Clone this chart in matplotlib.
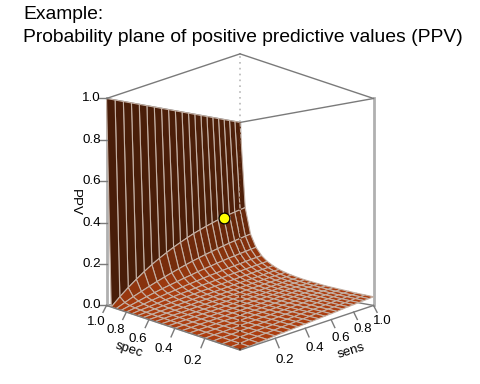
import numpy as np
import matplotlib
matplotlib.use('Agg')
import matplotlib.pyplot as plt
from mpl_toolkits.mplot3d import proj3d

plt.rcParams['font.family'] = ['Liberation Sans', 'DejaVu Sans']

title = 'Example:\nProbability plane of positive predictive values (PPV)'

sens = [0.00, 0.05, 0.10, 0.15, 0.20, 0.25, 0.30, 0.35, 0.40, 0.45, 0.50,
        0.55, 0.60, 0.65, 0.70, 0.75, 0.80, 0.85, 0.90, 0.95, 1.00]
spec = [1.00, 0.95, 0.90, 0.85, 0.80, 0.75, 0.70, 0.65, 0.60, 0.55, 0.50,
        0.45, 0.40, 0.35, 0.30, 0.25, 0.20, 0.15, 0.10, 0.05, 0.00]

# one row per spec value, one column per sens value
ppv = [
    [1, 1, 1, 1, 1, 1, 1, 1, 1, 1, 1, 1, 1, 1, 1, 1, 1, 1, 1, 1, 1],
    [0, .042, .080, .115, .148, .179, .207, .233, .258, .281, .303, .324, .343, .361, .378, .395, .410, .425, .439, .452, .465],
    [0, .021, .042, .061, .080, .098, .115, .132, .148, .164, .179, .193, .207, .220, .233, .246, .258, .270, .281, .292, .303],
    [0, .014, .028, .042, .055, .068, .080, .092, .104, .115, .127, .138, .148, .159, .169, .179, .188, .198, .207, .216, .225],
    [0, .011, .021, .032, .042, .052, .061, .071, .080, .089, .098, .107, .115, .124, .132, .140, .148, .156, .164, .171, .179],
    [0, .009, .017, .025, .034, .042, .050, .057, .065, .073, .080, .087, .095, .102, .109, .115, .122, .129, .135, .142, .148],
    [0, .007, .014, .021, .028, .035, .042, .048, .055, .061, .068, .074, .080, .086, .092, .098, .104, .110, .115, .121, .127],
    [0, .006, .012, .018, .024, .030, .036, .042, .047, .053, .058, .064, .069, .075, .080, .085, .090, .095, .101, .106, .110],
    [0, .005, .011, .016, .021, .026, .032, .037, .042, .047, .052, .056, .061, .066, .071, .075, .080, .085, .089, .094, .098],
    [0, .005, .010, .014, .019, .024, .028, .033, .037, .042, .046, .050, .055, .059, .063, .068, .072, .076, .080, .084, .088],
    [0, .004, .009, .013, .017, .021, .025, .030, .034, .038, .042, .046, .050, .053, .057, .061, .065, .069, .073, .076, .080],
    [0, .004, .008, .012, .016, .019, .023, .027, .031, .034, .038, .042, .045, .049, .052, .056, .059, .063, .066, .070, .073],
    [0, .004, .007, .011, .014, .018, .021, .025, .028, .032, .035, .038, .042, .045, .048, .052, .055, .058, .061, .064, .068],
    [0, .003, .007, .010, .013, .016, .020, .023, .026, .029, .032, .035, .039, .042, .045, .048, .051, .054, .057, .060, .063],
    [0, .003, .006, .009, .012, .015, .018, .021, .024, .027, .030, .033, .036, .039, .042, .045, .047, .050, .053, .056, .058],
    [0, .003, .006, .009, .011, .014, .017, .020, .023, .025, .028, .031, .034, .036, .039, .042, .044, .047, .050, .052, .055],
    [0, .003, .005, .008, .011, .013, .016, .019, .021, .024, .026, .029, .032, .034, .037, .039, .042, .044, .047, .049, .052],
    [0, .003, .005, .008, .010, .013, .015, .018, .020, .023, .025, .027, .030, .032, .035, .037, .039, .042, .044, .046, .049],
    [0, .002, .005, .007, .010, .012, .014, .017, .019, .021, .024, .026, .028, .030, .033, .035, .037, .039, .042, .044, .046],
    [0, .002, .005, .007, .009, .011, .014, .016, .018, .020, .022, .025, .027, .029, .031, .033, .035, .037, .040, .042, .044],
    [0, .002, .004, .006, .009, .011, .013, .015, .017, .019, .021, .023, .025, .027, .030, .032, .034, .036, .038, .040, .042],
]

point_sens = [0.80]
point_spec = [0.95]
point_ppv = [0.405]

z_ticks = [0.0, 0.2, 0.4, 0.6, 0.8, 1.0]
spec_ticks = [0.2, 0.4, 0.6, 0.8, 1.0]
sens_ticks = [0.2, 0.4, 0.6, 0.8, 1.0]

fig = plt.figure(figsize=(4.8, 3.84), dpi=100)
ax = fig.add_axes([71.6 / 480, 13.6 / 384, 328 / 480, 328 / 384], projection='3d')
ax.set_box_aspect((1, 1, 1.096))
ax.set_proj_type('persp', focal_length=0.25)
ax.view_init(elev=0, azim=225)
ax.set_xlim(0, 1, view_margin=0)
ax.set_ylim(0, 1, view_margin=0)
ax.set_zlim(0, 1, view_margin=0)
ax.set_axis_off()
ax.computed_zorder = False


# text placed at a 3d position but kept as plain 2d text, so rotation holds
def label_3d(x, y, z, s, rotation=0):
    px, py, _ = proj3d.proj_transform(x, y, z, ax.get_proj())
    ax.text2D(px, py, s, transform=ax.transData, fontsize=9.6, rotation=rotation,
              ha='center', va='center')


X, Y = np.meshgrid(sens, spec)
Z = np.array(ppv, dtype=float)

# shade each cell by how flat it is
dzx = (Z[:-1, 1:] - Z[:-1, :-1] + Z[1:, 1:] - Z[1:, :-1]) / 2 / 0.05
dzy = (Z[1:, :-1] - Z[:-1, :-1] + Z[1:, 1:] - Z[:-1, 1:]) / 2 / 0.05
nz = 1 / np.sqrt(1 + dzx ** 2 + dzy ** 2)
flat = np.array([172, 62, 16]) / 255
steep = np.array([62, 26, 8]) / 255
colors = steep + (flat - steep) * nz[..., None] ** 0.8
colors = np.dstack([colors, np.ones(nz.shape)])

line_dark = '#7a7a7a'
line_light = '#b0b0b0'

# back of the box
ax.plot([0, 1], [1, 1], [1, 1], color=line_dark, lw=1, zorder=1)
ax.plot([1, 1], [1, 0], [1, 1], color=line_dark, lw=1, zorder=1)
ax.plot([1, 1], [1, 1], [0, 1], color=line_dark, lw=1, zorder=1)
ax.plot([0, 1], [1, 1], [0, 0], color=line_dark, lw=1, zorder=1)
ax.plot([1, 1], [1, 0], [0, 0], color=line_dark, lw=1, zorder=1)
ax.plot([0, 0], [1, 1], [0, 1], color=line_light, lw=2, zorder=1)
ax.plot([1, 1], [0, 0], [0, 1], color=line_light, lw=2, zorder=1)

ax.plot_surface(X, Y, Z, rstride=1, cstride=1, facecolors=colors, shade=False,
                edgecolor='#c4b0a4', linewidth=0.8, antialiased=True, zorder=2)

# front of the box
ax.plot([0, 0], [1, 0], [1, 1], color=line_dark, lw=1, zorder=3)
ax.plot([0, 1], [0, 0], [1, 1], color=line_dark, lw=1, zorder=3)
ax.plot([0, 0], [1, 0], [0, 0], color=line_dark, lw=1, zorder=3)
ax.plot([0, 1], [0, 0], [0, 0], color=line_dark, lw=1, zorder=3)
ax.plot([0, 0], [0, 0], [0.77, 1], color='#b8b8b8', lw=1.2, ls=(0, (1, 2.5)), zorder=3)
ax.plot([0, 0], [0, 0], [0, 0.77], color='#5e2a10', lw=1.2, ls=(0, (1, 2.5)), zorder=3)

# ticks and labels
for v in z_ticks:
    ax.plot([0, -0.027], [1, 1.027], [v, v], color=line_dark, lw=1, zorder=3)
    label_3d(-0.056, 1.056, v, f'{v:.1f}')
for v in spec_ticks:
    ax.plot([0, -0.02], [v, v], [0, -0.03], color=line_dark, lw=1, zorder=3)
    label_3d(-0.06, v, -0.07, f'{v:.1f}')
for v in sens_ticks:
    ax.plot([v, v], [0, -0.02], [0, -0.03], color=line_dark, lw=1, zorder=3)
    label_3d(v, -0.05, -0.067, f'{v:.1f}')

label_3d(-0.117, 1.117, 0.50, 'PPV', rotation=-90)
label_3d(-0.125, 0.565, -0.095, 'spec', rotation=-18)
label_3d(0.57, -0.125, -0.1, 'sens', rotation=17)

ax.scatter(point_sens, point_spec, point_ppv, s=60, c='#ffff00', edgecolors='black',
           linewidths=0.9, depthshade=False, zorder=4)

fig.text(23 / 480, 1 - 6 / 384, title, fontsize=13.85, ha='left', va='top', linespacing=1.45)

fig.savefig('out.png', dpi=100)
